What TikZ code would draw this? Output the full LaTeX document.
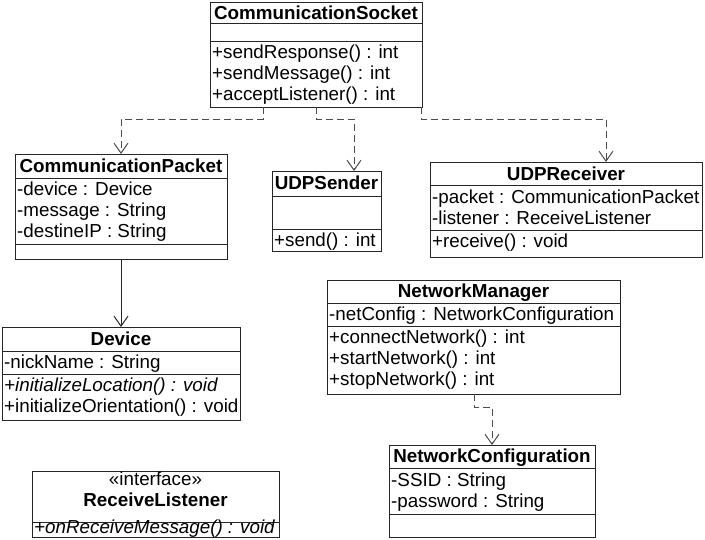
\documentclass[tikz,border=0pt]{standalone}
\usepackage{fontspec}
\setmainfont{Liberation Sans}
\usetikzlibrary{arrows.meta}
\begin{document}
\begin{tikzpicture}[x=1pt,y=-1pt,
  box/.style={draw=black!85, line width=1pt, anchor=north west, inner sep=0, outer sep=0},
  sep/.style={draw=black!85, line width=1pt},
  txt/.style={anchor=base west, inner sep=0, font=\fontsize{18.8}{21}\selectfont},
  itxt/.style={txt, font=\fontsize{18.8}{21}\selectfont\itshape},
  ttl/.style={anchor=base, inner sep=0, font=\fontsize{18.8}{21}\selectfont\bfseries},
  ster/.style={anchor=base, inner sep=0, font=\fontsize{18.8}{21}\selectfont},
  dep/.style={draw=black!70, line width=1pt, dash pattern=on 7pt off 4pt, -{Straight Barb[length=10pt,width=14pt]}},
  assoc/.style={draw=black!85, line width=1pt, -{Straight Barb[length=10pt,width=14pt]}}]
\useasboundingbox (0,0) rectangle (705,539);

% CommunicationSocket
\node[box, minimum width=212pt, minimum height=105pt] (cs) at (210,2) {};
\draw[sep] (210,23) -- (422,23);
\draw[sep] (210,41) -- (422,41);
\node[ttl] (cst) at (316,19) {CommunicationSocket};
\node[txt] (csm1) at (212,58.5) {+sendResponse() : int};
\node[txt] (csm2) at (212,79.5) {+sendMessage() : int};
\node[txt] (csm3) at (212,100.5) {+acceptListener() : int};

% CommunicationPacket
\node[box, minimum width=212pt, minimum height=105pt] (cp) at (15,154) {};
\draw[sep] (15,178) -- (227,178);
\draw[sep] (15,244) -- (227,244);
\node[ttl] (cpt) at (121,172) {CommunicationPacket};
\node[txt] (cpa1) at (17,195) {-device : Device};
\node[txt] (cpa2) at (17,216) {-message : String};
\node[txt] (cpa3) at (17,237) {-destineIP : String};

% Device
\node[box, minimum width=238pt, minimum height=93pt] (dev) at (2,327) {};
\draw[sep] (2,351) -- (240,351);
\draw[sep] (2,374) -- (240,374);
\node[ttl] (devt) at (121,345) {Device};
\node[txt] (deva1) at (4,368) {-nickName : String};
\node[itxt] (devm1) at (4,391) {+initializeLocation() : void};
\node[txt] (devm2) at (4,412) {+initializeOrientation() : void};

% UDPSender
\node[box, minimum width=109pt, minimum height=80pt] (us) at (272,171) {};
\draw[sep] (272,196) -- (381,196);
\draw[sep] (272,229) -- (381,229);
\node[ttl] (ust) at (326.5,189) {UDPSender};
\node[txt] (usm1) at (274,246) {+send() : int};

% UDPReceiver
\node[box, minimum width=272pt, minimum height=95pt] (ur) at (430,162) {};
\draw[sep] (430,185) -- (702,185);
\draw[sep] (430,230) -- (702,230);
\node[ttl] (urt) at (566,180) {UDPReceiver};
\node[txt] (ura1) at (432,203) {-packet : CommunicationPacket};
\node[txt] (ura2) at (432,224) {-listener : ReceiveListener};
\node[txt] (urm1) at (432,247) {+receive() : void};

% NetworkManager
\node[box, minimum width=293pt, minimum height=114pt] (nm) at (327,280) {};
\draw[sep] (327,303) -- (620,303);
\draw[sep] (327,326) -- (620,326);
\node[ttl] (nmt) at (473.5,297.5) {NetworkManager};
\node[txt] (nma1) at (329,320) {-netConfig : NetworkConfiguration};
\node[txt] (nmm1) at (329,343) {+connectNetwork() : int};
\node[txt] (nmm2) at (329,364) {+startNetwork() : int};
\node[txt] (nmm3) at (329,385) {+stopNetwork() : int};

% NetworkConfiguration
\node[box, minimum width=206pt, minimum height=92pt] (nc) at (389,445) {};
\draw[sep] (389,468) -- (595,468);
\draw[sep] (389,514) -- (595,514);
\node[ttl] (nct) at (492,462.5) {NetworkConfiguration};
\node[txt] (nca1) at (391,486) {-SSID : String};
\node[txt] (nca2) at (391,507) {-password : String};

% ReceiveListener
\node[box, minimum width=247pt, minimum height=66pt] (rl) at (32,471) {};
\draw[sep] (32,522) -- (279,522);
\node[ster] (rls) at (155.5,485) {«interface»};
\node[ttl] (rlt) at (155.5,506) {ReceiveListener};
\node[itxt] (rlm1) at (34,533) {+onReceiveMessage() : void};

% connectors
\draw[dep] ([xshift=53pt]cs.south west) -- ++(0,12) -| (cp.north);
\draw[dep] ([xshift=106pt]cs.south west) -- ++(0,12) -| ([xshift=27.5pt]us.north);
\draw[dep] ([xshift=-1pt]cs.south east) -- ++(0,12) -| ([xshift=40pt]ur.north);
\draw[assoc] (cp.south) -- (dev.north);
\draw[dep] ([xshift=147pt]nm.south west) -- ++(0,13) -| (nc.north);
\end{tikzpicture}
\end{document}
